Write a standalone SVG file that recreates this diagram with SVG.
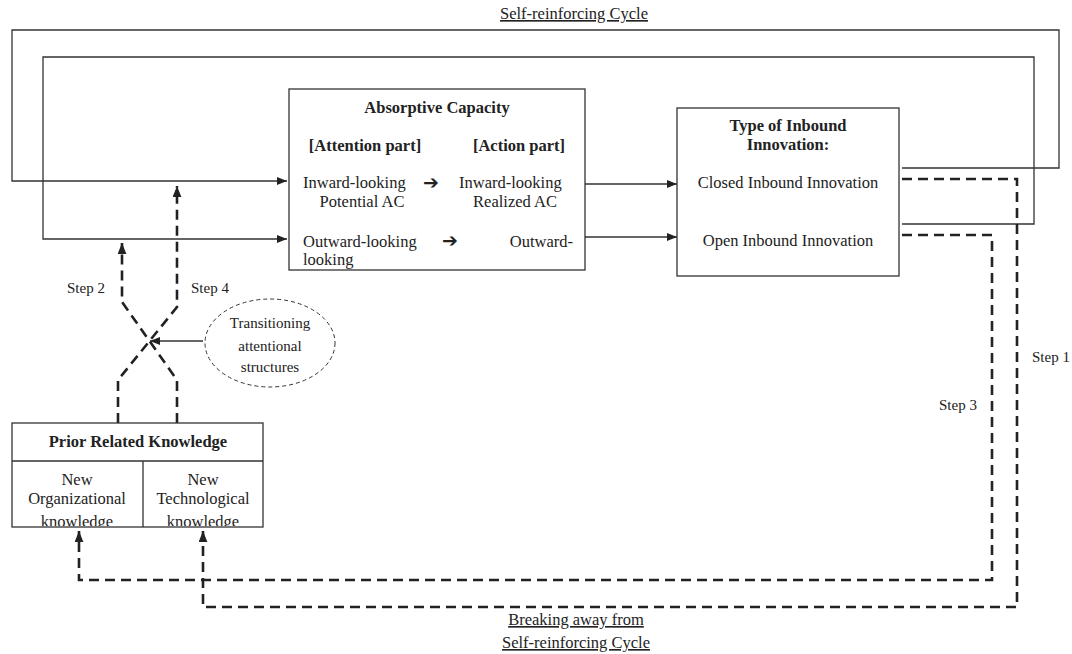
<svg xmlns="http://www.w3.org/2000/svg" width="1072" height="654" viewBox="0 0 1072 654">
<defs>
<style>
text{font-family:"Liberation Serif","Times New Roman",serif;fill:#222;}
.t{font-size:16.5px;}
.b{font-size:16.5px;font-weight:bold;}
.s{font-size:15px;}
.m{text-anchor:middle;}
.e{text-anchor:end;}
.u{text-decoration:underline;}
.ar{font-family:"DejaVu Sans",sans-serif;font-size:19px;font-weight:bold;}
.box{fill:#fff;stroke:#333;stroke-width:1.3;}
.ln{fill:none;stroke:#333;stroke-width:1.3;}
.dl{fill:none;stroke:#222;stroke-width:2.6;stroke-dasharray:10 6;}
</style>
<marker id="ah" viewBox="0 0 10 8" refX="10" refY="4" markerWidth="10" markerHeight="8" markerUnits="userSpaceOnUse" orient="auto"><path d="M0,0L10,4L0,8z" fill="#222"/></marker>
<marker id="ad" viewBox="0 0 10 8" refX="10" refY="4" markerWidth="11" markerHeight="9" markerUnits="userSpaceOnUse" orient="auto"><path d="M0,0L10,4L0,8z" fill="#222"/></marker>
<clipPath id="kc"><rect x="12" y="461" width="251" height="65"/></clipPath>
</defs>

<g id="connectors">
<path class="ln" d="M902,168H1059V30H12V181H287" marker-end="url(#ah)"/>
<path class="ln" d="M902,224H1034V57H43V239H287" marker-end="url(#ah)"/>
<path class="ln" d="M585,184H677" marker-end="url(#ah)"/>
<path class="ln" d="M585,237H677" marker-end="url(#ah)"/>
<path class="dl" d="M902,179H1017V607H203V531" marker-end="url(#ad)"/>
<path class="dl" d="M902,235H992V580H79V531" marker-end="url(#ad)"/>
<path class="dl" d="M118,423V380L177,307V186" marker-end="url(#ad)"/>
<path class="dl" d="M177,423V380L122,302V243" marker-end="url(#ad)"/>
<path class="ln" d="M203,341H150" marker-end="url(#ah)"/>
</g>

<g id="title-top"><text class="t m u" x="574" y="19">Self-reinforcing Cycle</text></g>

<g id="absorptive-capacity">
<rect class="box" x="289" y="89" width="296" height="181"/>
<text class="b m" x="437" y="113">Absorptive Capacity</text>
<text class="b m" x="365" y="151">[Attention part]</text>
<text class="b m" x="519" y="151">[Action part]</text>
<text class="t" x="303" y="188">Inward-looking</text>
<text class="t m" x="362" y="207">Potential AC</text>
<text class="ar m" x="431" y="189">➔</text>
<text class="t" x="459" y="188">Inward-looking</text>
<text class="t m" x="515" y="207">Realized AC</text>
<text class="t" x="303" y="247">Outward-looking</text>
<text class="ar m" x="450" y="247">➔</text>
<text class="t e" x="573" y="247">Outward-</text>
<text class="t" x="303" y="265">looking</text>
</g>

<g id="inbound-innovation">
<rect class="box" x="677" y="108" width="222" height="168"/>
<text class="b m" x="788" y="131">Type of Inbound</text>
<text class="b m" x="788" y="150">Innovation:</text>
<text class="t m" x="788" y="188">Closed Inbound Innovation</text>
<text class="t m" x="788" y="246">Open Inbound Innovation</text>
</g>

<g id="transitioning">
<ellipse cx="270" cy="343" rx="65" ry="44" fill="#fff" stroke="#333" stroke-width="1" stroke-dasharray="4 3"/>
<text class="s m" x="270" y="328">Transitioning</text>
<text class="s m" x="270" y="351">attentional</text>
<text class="s m" x="270" y="372">structures</text>
</g>

<g id="prior-knowledge">
<rect class="box" x="12" y="423" width="251" height="104"/>
<path class="ln" d="M12,461H263M143,461V527"/>
<text class="b m" x="138" y="447">Prior Related Knowledge</text>
<text class="t m" x="77" y="485">New</text>
<text class="t m" x="77" y="504">Organizational</text>
<text class="t m" x="77" y="527" clip-path="url(#kc)">knowledge</text>
<text class="t m" x="203" y="485">New</text>
<text class="t m" x="203" y="504">Technological</text>
<text class="t m" x="203" y="527" clip-path="url(#kc)">knowledge</text>
</g>

<g id="labels">
<text class="s" x="67" y="293">Step 2</text>
<text class="s" x="191" y="293">Step 4</text>
<text class="s" x="1032" y="362">Step 1</text>
<text class="s" x="939" y="410">Step 3</text>
<text class="t m u" x="576" y="625">Breaking away from</text>
<text class="t m u" x="576" y="648">Self-reinforcing Cycle</text>
</g>
</svg>
